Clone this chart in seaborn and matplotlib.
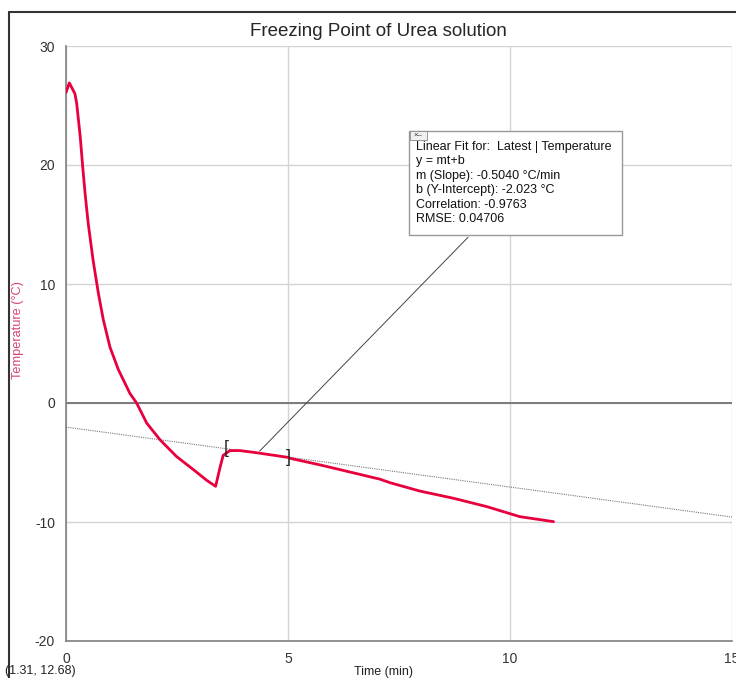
import numpy as np
import pandas as pd
import seaborn as sns
import matplotlib.pyplot as plt
from matplotlib.lines import Line2D
from matplotlib.patches import Rectangle
from matplotlib.ticker import MultipleLocator

# Readings from the logger (time in min, temperature in °C)
time_min = [0.0, 0.075, 0.2, 0.24, 0.32, 0.375, 0.43, 0.5, 0.61, 0.73, 0.84, 0.99,
            1.18, 1.44, 1.59, 1.82, 2.12, 2.49, 2.87, 3.17, 3.37, 3.47, 3.54, 3.69,
            3.92, 4.33, 5.0, 5.05, 5.72, 6.17, 7.07, 7.3, 7.97, 8.72, 9.47, 10.0,
            10.22, 10.98]
temperature = [26.1, 26.9, 26.0, 25.2, 22.4, 19.9, 17.6, 15.1, 12.0, 9.2, 7.0, 4.7,
               2.8, 0.8, 0.0, -1.7, -3.1, -4.5, -5.6, -6.5, -7.0, -5.4, -4.4, -4.0,
               -4.0, -4.2, -4.57, -4.65, -5.2, -5.6, -6.4, -6.7, -7.4, -8.0, -8.7, -9.3,
               -9.55, -9.97]

# Linear fit results shown in the box
fit_slope = -0.5040
fit_intercept = -2.023
fit_range = [3.6, 5.0]
fit_lines = ["Linear Fit for:  Latest | Temperature",
             "y = mt+b",
             "m (Slope): -0.5040 °C/min",
             "b (Y-Intercept): -2.023 °C",
             "Correlation: -0.9763",
             "RMSE: 0.04706"]

W, H = 736, 678


def px(x, y):
    return x / W, 1 - y / H


sns.set_style("white")
plt.rcParams["font.family"] = ["Liberation Sans", "DejaVu Sans"]
plt.rcParams["axes.unicode_minus"] = False

fig = plt.figure(figsize=(W / 100, H / 100), dpi=100)
ax = fig.add_axes([66 / W, 37 / H, (732 - 66) / W, (641 - 46) / H])

df = pd.DataFrame({"Time": time_min, "Temperature": temperature})

# fit line across the full axis
fit_t = np.array([0, 15])
ax.plot(fit_t, fit_slope * fit_t + fit_intercept, ls=(0, (1, 1)), color="#777777", lw=0.8, zorder=3)

sns.lineplot(data=df, x="Time", y="Temperature", sort=False, color="#e8003d", lw=2.0, ax=ax, zorder=4)

ax.set_xlim(0, 15)
ax.set_ylim(-20, 30)
ax.xaxis.set_major_locator(MultipleLocator(5))
ax.xaxis.set_minor_locator(MultipleLocator(1))
ax.yaxis.set_major_locator(MultipleLocator(10))
ax.yaxis.set_minor_locator(MultipleLocator(2))
ax.grid(True, which="major", color="#d4d4d4", lw=1)
ax.axhline(0, color="#7a7a7a", lw=1.4, zorder=2)
for s in ["top", "right"]:
    ax.spines[s].set_visible(False)
for s in ["left", "bottom"]:
    ax.spines[s].set_color("#808080")
    ax.spines[s].set_linewidth(1.2)
ax.tick_params(which="major", length=7, color="#808080", labelsize=10, labelcolor="#333333", pad=1)
ax.tick_params(which="minor", length=3, color="#808080")
ax.set_xlabel("")
ax.set_ylabel("")

# fit range brackets
ax.text(fit_range[0], fit_slope * fit_range[0] + fit_intercept, "[", ha="center", va="center",
        fontsize=13, zorder=5)
ax.text(fit_range[1], fit_slope * fit_range[1] + fit_intercept, "]", ha="center", va="center",
        fontsize=13, zorder=5)

# pointer from the fit to the box
ax.annotate("", xy=(4.32, -4.2), xytext=(9.1, 14.1),
            arrowprops=dict(arrowstyle="-", color="#444444", lw=0.7), zorder=3)

# info box
x0, y0 = px(409, 235)
x1, y1 = px(622, 131)
fig.add_artist(Rectangle((x0, y0), x1 - x0, y1 - y0, transform=fig.transFigure,
                         facecolor="white", edgecolor="#999999", lw=1, zorder=10))
ix0, iy0 = px(410, 140)
ix1, iy1 = px(427, 131)
fig.add_artist(Rectangle((ix0, iy0), ix1 - ix0, iy1 - iy0, transform=fig.transFigure,
                         facecolor="#f0f0f0", edgecolor="#888888", lw=0.6, zorder=11))
fig.text(*px(418, 135.5), "×–", fontsize=5.5, ha="center", va="center", color="#333333", zorder=12)
for i, line in enumerate(fit_lines):
    fig.text(*px(416, 147 + i * 14.4), line, fontsize=9, va="center", ha="left",
             color="#111111", zorder=12)

# titles and labels
fig.text(*px(378, 31), "Freezing Point of Urea solution", fontsize=13.5, ha="center", va="center")
fig.text(*px(18, 330), "Temperature (°C)", fontsize=9.2, rotation=90, ha="center", va="center",
         color="#d6437a")
fig.text(*px(384, 672), "Time (min)", fontsize=9, ha="center", va="center", color="#222222")
fig.text(*px(5, 671), "(1.31, 12.68)", fontsize=9, ha="left", va="center", color="#222222")

# outer frame
fig.add_artist(Line2D([9 / W, 9 / W], [0, 1 - 12 / H], transform=fig.transFigure, color="#333333", lw=1.5))
fig.add_artist(Line2D([9 / W, 1], [1 - 12 / H, 1 - 12 / H], transform=fig.transFigure, color="#333333", lw=1.5))

fig.savefig("out.png", dpi=100)
